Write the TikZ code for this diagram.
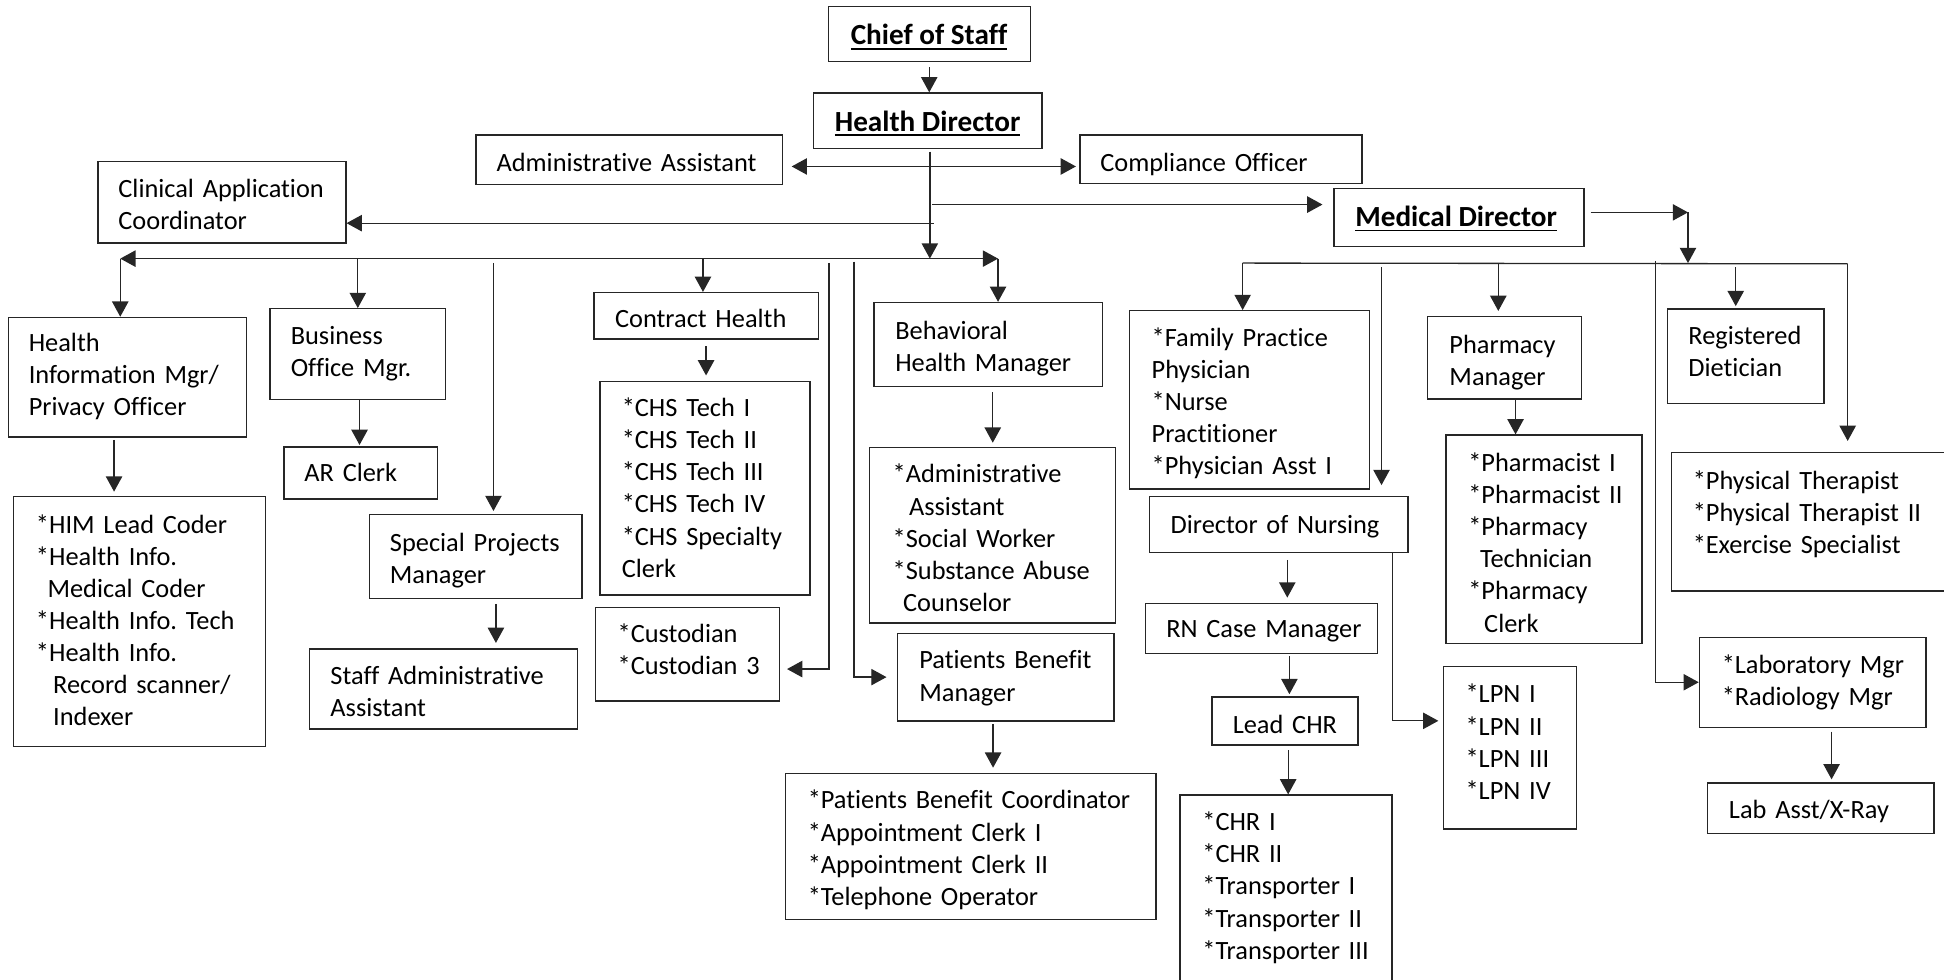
\documentclass[tikz,border=0pt]{standalone}
\usepackage{fontspec}
\setmainfont{Carlito}[Ligatures=NoCommon]
\usetikzlibrary{arrows.meta, fit, calc}
\frenchspacing

\newcommand{\titleline}[1]{\setbox0=\hbox{#1}\rlap{\rule[-2.2pt]{\wd0}{0.8pt}}\box0}

\tikzset{
  orgbox/.style={draw=black!85, line width=0.6pt, inner sep=0pt},
  titletext/.style={anchor=base, inner sep=0pt, font=\fontsize{13.4}{16}\selectfont\bfseries},
  orgtext/.style={anchor=base west, align=left, text width=7cm, inner sep=0pt},
}

\begin{document}
\begin{tikzpicture}[>={Triangle[length=7pt,width=7.5pt]}, x=0.02cm, y=-0.02cm,
    line width=0.6pt, draw=black!85, font=\fontsize{12.1}{14.75}\selectfont]
    \useasboundingbox (0,0) rectangle (1568,790);

    % --- Directors ---
    \node[orgbox, fit={(668,5) (831,49.5)}] (chief) {};
    \node[titletext] (chief-t) at (749.3,36.3) {\titleline{Chief of Staff}};
    \node[orgbox, fit={(656,75) (840.5,120)}] (hdir) {};
    \node[titletext] (hdir-t) at (748.2,105.7) {\titleline{Health Director}};
    \node[orgbox, fit={(1076,152) (1277.6,199)}] (mdir) {};
    \node[titletext] (mdir-t) at (1174.5,182.8) {\titleline{Medical Director}};

    % --- Staff of the health director ---
    \node[orgbox, fit={(384,109) (631,149)}] (admin) {};
    \node[orgtext] (admin-t) at (400,138) {Administrative Assistant};
    \node[orgbox, fit={(871,109) (1098.6,148)}] (comp) {};
    \node[orgtext] (comp-t) at (887,138) {Compliance Officer};
    \node[orgbox, fit={(79,130) (279,196)}] (cac) {};
    \node[orgtext] (cac-t) at (95,159) {Clinical Application\\Coordinator};

    % --- Left branch ---
    \node[orgbox, fit={(7,256) (199,352.5)}] (him) {};
    \node[orgtext] (him-t) at (22.7,283.5) {Health\\Information Mgr/\\Privacy Officer};
    \node[orgbox, fit={(11,400.6) (214.4,602)}] (himlist) {};
    \node[orgtext] (himlist-t) at (28.5,430) {{*}HIM Lead Coder\\{*}Health Info.\\\hspace*{5.3pt}Medical Coder\\{*}Health Info. Tech\\{*}Health Info.\\\hspace*{7.9pt}Record scanner/\\\hspace*{7.9pt}Indexer};

    \node[orgbox, fit={(217.7,249) (359.5,322)}] (bom) {};
    \node[orgtext] (bom-t) at (234,278) {Business\\Office Mgr.};
    \node[orgbox, fit={(229,360.5) (353,402.5)}] (arclerk) {};
    \node[orgtext] (arclerk-t) at (245,388.3) {AR Clerk};

    \node[orgbox, fit={(298,415) (469.5,483)}] (spm) {};
    \node[orgtext] (spm-t) at (314,444.5) {Special Projects\\Manager};
    \node[orgbox, fit={(249.8,523.5) (466,588)}] (sadmin) {};
    \node[orgtext] (sadmin-t) at (266,552.3) {Staff Administrative\\Assistant};

    \node[orgbox, fit={(479,236) (660,273.4)}] (chealth) {};
    \node[orgtext] (chealth-t) at (495.6,264.5) {Contract Health};
    \node[orgbox, fit={(484,307.6) (653.3,480)}] (chslist) {};
    \node[orgtext] (chslist-t) at (501,336) {{*}CHS Tech I\\{*}CHS Tech II\\{*}CHS Tech III\\{*}CHS Tech IV\\{*}CHS Specialty\\Clerk};
    \node[orgbox, fit={(480.5,489.9) (629,565.5)}] (custlist) {};
    \node[orgtext] (custlist-t) at (497.7,518.5) {{*}Custodian\\{*}Custodian 3};

    \node[orgbox, fit={(705,244) (889,312)}] (bhm) {};
    \node[orgtext] (bhm-t) at (721.6,273.5) {Behavioral\\Health Manager};
    \node[orgbox, fit={(701.5,360.8) (900,502.5)}] (bhlist) {};
    \node[orgtext] (bhlist-t) at (719.5,389.5) {{*}Administrative\\\hspace*{7.5pt}Assistant\\{*}Social Worker\\{*}Substance Abuse\\\hspace*{4.8pt}Counselor};
    \node[orgbox, fit={(724,510.8) (898.4,581.5)}] (pbm) {};
    \node[orgtext] (pbm-t) at (741,539.5) {Patients Benefit\\Manager};
    \node[orgbox, fit={(633.7,623.8) (932.5,741.5)}] (pblist) {};
    \node[orgtext] (pblist-t) at (651,652.5) {{*}Patients Benefit Coordinator\\{*}Appointment Clerk I\\{*}Appointment Clerk II\\{*}Telephone Operator};

    % --- Right branch ---
    \node[orgbox, fit={(911,250.6) (1104.7,394.4)}] (fplist) {};
    \node[orgtext] (fplist-t) at (928.4,279.4) {{*}Family Practice\\Physician\\{*}Nurse\\Practitioner\\{*}Physician Asst I};
    \node[orgbox, fit={(927.2,400.6) (1135.6,445.8)}] (don) {};
    \node[orgtext] (don-t) at (943.7,430.2) {Director of Nursing};
    \node[orgbox, fit={(924,486.6) (1111.2,527)}] (rncm) {};
    \node[orgtext] (rncm-t) at (940.2,514.5) {RN Case Manager};
    \node[orgbox, fit={(977.6,562.2) (1095.3,601)}] (leadchr) {};
    \node[orgtext] (leadchr-t) at (993.8,591.3) {Lead CHR};
    \node[orgbox, fit={(951.8,641.3) (1122.8,800)}] (chrlist) {};
    \node[orgtext] (chrlist-t) at (969.3,670) {{*}CHR I\\{*}CHR II\\{*}Transporter I\\{*}Transporter II\\{*}Transporter III};
    \node[orgbox, fit={(1164.2,537.7) (1271.4,668.7)}] (lpnlist) {};
    \node[orgtext] (lpnlist-t) at (1181.6,567) {{*}LPN I\\{*}LPN II\\{*}LPN III\\{*}LPN IV};

    \node[orgbox, fit={(1151.6,255.4) (1275.8,321.8)}] (pharm) {};
    \node[orgtext] (pharm-t) at (1168.6,284.8) {Pharmacy\\Manager};
    \node[orgbox, fit={(1166.3,350.9) (1324.4,518.9)}] (pharmlist) {};
    \node[orgtext] (pharmlist-t) at (1183.8,380.2) {{*}Pharmacist I\\{*}Pharmacist II\\{*}Pharmacy\\\hspace*{5.4pt}Technician\\{*}Pharmacy\\\hspace*{7.3pt}Clerk};

    \node[orgbox, fit={(1345.2,249.2) (1471.3,325.3)}] (diet) {};
    \node[orgtext] (diet-t) at (1361.3,278) {Registered\\Dietician};
    \node[orgbox, fit={(1348.3,365) (1600,476.7)}] (ptlist) {};
    \node[orgtext] (ptlist-t) at (1364.8,394.5) {{*}Physical Therapist\\{*}Physical Therapist II\\{*}Exercise Specialist};
    \node[orgbox, fit={(1370.7,514) (1553.5,586.6)}] (lablist) {};
    \node[orgtext] (lablist-t) at (1388.2,543) {{*}Laboratory Mgr\\{*}Radiology Mgr};
    \node[orgbox, fit={(1377.5,631.6) (1560,672.1)}] (labasst) {};
    \node[orgtext] (labasst-t) at (1394,660.4) {Lab Asst/X-Ray};

    % --- Bus lines ---
    \coordinate (busl) at (97,208.6);
    \coordinate (busr) at (805,208.6);
    \coordinate (trunk) at (750,208.6);
    \coordinate (tomd) at (752,165);
    \coordinate (tocac) at (753,180);
    \coordinate (busR) at (1002.3,212.2);
    \coordinate (busRe) at (1490.3,212.8);
    \coordinate (mdc) at (1361.5,171.3);

    % --- Top connectors ---
    \draw[->, shorten <=2.5pt] (chief.south) -- (chief.south |- hdir.north);
    \draw[->, shorten <=1pt] (hdir.south -| trunk) -- (trunk);
    \draw[<->, shorten <=4pt, shorten >=1.5pt] ([yshift=-3pt]admin.east) -- ([yshift=-3pt]admin.east -| comp.west);
    \draw[->, shorten >=5pt] (tomd) -- (tomd -| mdir.west);
    \draw[->] (tocac) -- (tocac -| cac.east);

    % --- Left branch connectors ---
    \draw[<->] (busl) -- (busr);
    \draw[->] (busl) -- (busl |- him.north);
    \draw[->] (bom.north |- busl) -- (bom.north);
    \coordinate (tospm) at (398,212);
    \draw[->, shorten >=1.3pt] (tospm) -- (tospm |- spm.north);
    \coordinate (toch) at (567,208.6);
    \draw[->] (toch) -- (toch |- chealth.north);
    \coordinate (tocust) at (668.7,212);
    \draw[->, shorten >=3pt] (tocust) |- ([yshift=-6.8pt]custlist.east);
    \coordinate (topbm) at (688.8,211);
    \draw[->, shorten >=4.8pt] (topbm) |- (pbm.west);
    \draw[->] (busr) -- (busr |- bhm.north);

    \draw[->, shorten <=1pt, shorten >=2pt] (him.south -| 92,0) -- (himlist.north -| 92,0);
    \draw[->, shorten >=0.6pt] (bom.south -| 290,0) -- (arclerk.north -| 290,0);
    \draw[->, shorten <=2pt, shorten >=2.5pt] (spm.south -| 400,0) -- (sadmin.north -| 400,0);
    \draw[->, shorten <=3pt, shorten >=2.4pt] (chealth.south) -- (chealth.south |- chslist.north);
    \draw[->, shorten <=2.3pt, shorten >=1.8pt] (bhlist.north |- bhm.south) -- (bhlist.north);
    \draw[->, shorten <=1pt, shorten >=2.3pt] (pbm.south -| 801,0) -- (pblist.north -| 801,0);

    % --- Right branch connectors ---
    \draw[->, shorten <=2.7pt] (mdir.east |- mdc) -- (mdc);
    \draw[->] (mdc) -- (mdc |- busR);
    \draw (busR) -- (busRe);
    \draw[->] (busR) -- (busR |- fplist.north);
    \coordinate (todon) at (1114.3,215.6);
    \draw[->, shorten >=5pt] (todon) -- (todon |- don.north);
    \coordinate (toph) at (1208.5,212.2);
    \draw[->, shorten >=2.3pt] (toph) -- (toph |- pharm.north);
    \coordinate (tolab) at (1335.5,210.5);
    \draw[->] (tolab) |- (lablist.west);
    \coordinate (todiet) at (1400,215.6);
    \draw[->, shorten >=1pt] (todiet) -- (todiet |- diet.north);
    \draw[->, shorten >=5pt] (busRe) -- (busRe |- ptlist.north);

    \draw[->] (pharm.south -| 1222.4,0) -- (pharmlist.north -| 1222.4,0);
    \draw[->, shorten <=3pt, shorten >=2.3pt] (don.south -| 1038.3,0) -- (rncm.north -| 1038.3,0);
    \draw[->, shorten <=1pt, shorten >=1pt] (rncm.south -| 1040,0) -- (leadchr.north -| 1040,0);
    \draw[->, shorten <=2pt] (leadchr.south -| 1039,0) -- (chrlist.north -| 1039,0);
    \draw[->, shorten >=2pt] (don.south -| 1123,0) |- ([yshift=12.4pt]lpnlist.west);
    \draw[->, shorten <=1.7pt, shorten >=1.4pt] (lablist.south -| 1477.3,0) -- (labasst.north -| 1477.3,0);
\end{tikzpicture}
\end{document}
